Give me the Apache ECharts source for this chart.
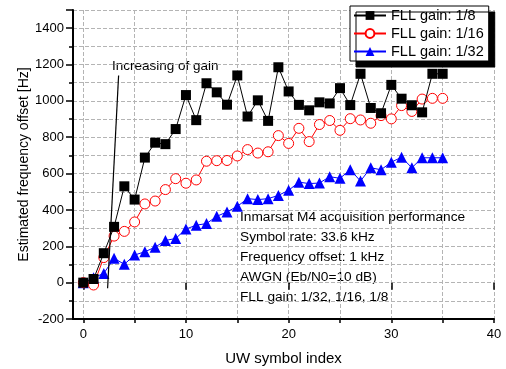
<!DOCTYPE html>
<html>
<head>
<meta charset="utf-8">
<title>FLL acquisition</title>
<script src="https://cdn.jsdelivr.net/npm/echarts@6/dist/echarts.min.js"></script>
<style>
  html, body { margin: 0; padding: 0; background: #fff; }
  #chart { width: 506px; height: 369px; }
</style>
</head>
<body>
<div id="chart"></div>
<script>
// UW symbol index 0..35
var symbolIndex = [];
for (var i = 0; i <= 35; i++) symbolIndex.push(i);

// estimated frequency offset [Hz]
var gain8 = [0, 20, 162, 307, 530, 457, 688, 770, 762, 845, 1032, 894, 1097, 1047, 979, 1140,
  914, 1003, 890, 1185, 1052, 978, 948, 992, 986, 1070, 977, 1149, 961, 932, 1088, 1012, 976, 937, 1149, 1149];
var gain16 = [0, -13, 138, 256, 282, 334, 433, 449, 512, 572, 547, 565, 668, 671, 672, 697,
  732, 713, 720, 809, 766, 849, 776, 870, 892, 838, 902, 895, 877, 919, 901, 974, 942, 1010, 1014, 1014];
var gain32 = [0, 27, 51, 134, 101, 152, 170, 195, 232, 243, 295, 316, 325, 365, 389, 420,
  462, 457, 462, 480, 508, 553, 545, 548, 583, 574, 621, 559, 632, 621, 663, 690, 632, 687, 687, 687];

var seriesNames = ['FLL gain: 1/8', 'FLL gain: 1/16', 'FLL gain: 1/32'];
var xMajorTicks = [0, 10, 20, 30, 40];
var xAllTicks = [0, 5, 10, 15, 20, 25, 30, 35, 40];
// arrow "Increasing of gain" (data coords)
var arrowFrom = [2.37, -31];
var arrowTo = [3.44, 1140];
var infoLines = [
  'Inmarsat M4 acquisition performance',
  'Symbol rate: 33.6 kHz',
  'Frequency offset: 1 kHz',
  'AWGN (Eb/N0=10 dB)',
  'FLL gain: 1/32, 1/16, 1/8'
];

function pairs(ys) {
  return ys.map(function (y, k) { return [symbolIndex[k], y]; });
}

var font = "'Liberation Sans', Arial, sans-serif";
var gridLine = { show: true, lineStyle: { color: '#b4b4b4', type: [4, 2], width: 1 } };

var chart = echarts.init(document.getElementById('chart'), null, { renderer: 'canvas' });
chart.setOption({
  animation: false,
  textStyle: { fontFamily: font, color: '#000' },
  grid: { left: 73, right: 12, top: 10, bottom: 50, outerBoundsMode: 'none' },
  legend: {
    orient: 'vertical',
    left: 350, top: 6,
    padding: [2, 5, 2, 3],
    itemWidth: 32, itemHeight: 11, itemGap: 3,
    backgroundColor: '#fff',
    borderColor: '#000', borderWidth: 1,
    shadowColor: '#000', shadowBlur: 0, shadowOffsetX: 6, shadowOffsetY: 6,
    textStyle: { fontSize: 14.5, color: '#000', fontFamily: font },
    data: seriesNames
  },
  xAxis: [
    {
      type: 'value', min: -1, max: 40, interval: 1,
      name: 'UW symbol index', nameLocation: 'middle', nameGap: 32, nameMoveOverlap: false,
      nameTextStyle: { fontSize: 15, color: '#000' },
      axisLine: { onZero: false, lineStyle: { color: '#000', width: 2 } },
      axisTick: { customValues: xAllTicks, length: 4, lineStyle: { color: '#000', width: 1.5 } },
      axisLabel: { customValues: xMajorTicks, fontSize: 13, color: '#000', margin: 9 },
      splitLine: gridLine
    },
    {
      // longer major ticks only
      type: 'value', min: -1, max: 40, position: 'bottom',
      axisLine: { show: false },
      axisTick: { customValues: xMajorTicks, length: 7, lineStyle: { color: '#000', width: 1.5 } },
      axisLabel: { show: false },
      splitLine: { show: false }
    }
  ],
  yAxis: {
    type: 'value', min: -200, max: 1500, interval: 200,
    name: 'Estimated frequency offset [Hz]', nameLocation: 'middle', nameGap: 42, nameMoveOverlap: false,
    nameTextStyle: { fontSize: 14, color: '#000' },
    axisLine: { show: true, onZero: false, lineStyle: { color: '#000', width: 2 } },
    axisTick: { show: true, length: 7, lineStyle: { color: '#000', width: 1.5 } },
    minorTick: { show: true, splitNumber: 2, length: 4, lineStyle: { color: '#000', width: 1.5 } },
    axisLabel: {
      fontSize: 13, color: '#000', margin: 9, showMaxLabel: false,
      formatter: function (v) { return String(v); }
    },
    splitLine: gridLine,
    minorSplitLine: gridLine
  },
  series: [
    {
      name: seriesNames[0], type: 'line', data: pairs(gain8),
      symbol: 'rect', symbolSize: 10,
      itemStyle: { color: '#000' }, lineStyle: { color: '#000', width: 1 },
      z: 5,
      markLine: {
        silent: true, symbol: ['none', 'arrow'], symbolSize: [0, 9],
        label: { show: false },
        lineStyle: { color: '#000', type: 'solid', width: 1.2 },
        data: [[{ coord: arrowFrom }, { coord: arrowTo }]]
      }
    },
    {
      name: seriesNames[1], type: 'line', data: pairs(gain16),
      symbol: 'circle', symbolSize: 10, showAllSymbol: true,
      itemStyle: { color: '#fff', borderColor: '#ff0000', borderWidth: 1 },
      lineStyle: { color: '#ff0000', width: 1 },
      z: 4
    },
    {
      name: seriesNames[2], type: 'line', data: pairs(gain32),
      symbol: 'triangle', symbolSize: 11, showAllSymbol: true,
      itemStyle: { color: '#0000ff' }, lineStyle: { color: '#0000ff', width: 1 },
      z: 3
    }
  ],
  graphic: [
    {
      type: 'text', left: 112, top: 59,
      style: { text: 'Increasing of gain', fill: '#000', font: '13.5px ' + font }
    },
    {
      type: 'text', left: 240, top: 207,
      style: { text: infoLines.join('\n'), lineHeight: 20, fill: '#000', font: '13.7px ' + font }
    }
  ]
});
</script>
</body>
</html>
